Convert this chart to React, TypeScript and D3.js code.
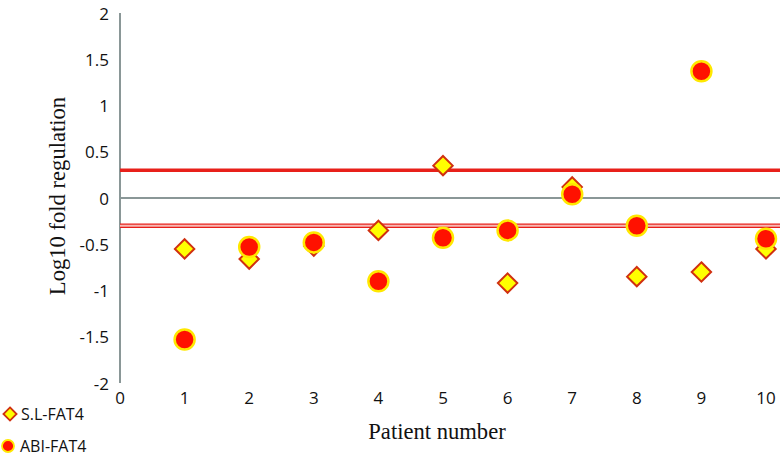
import React from "react";
import * as d3 from "d3";

const patients = [1, 2, 3, 4, 5, 6, 7, 8, 9, 10];
const slFat4 = [-0.55, -0.66, -0.52, -0.35, 0.35, -0.92, 0.12, -0.85, -0.8, -0.55];
const abiFat4 = [-1.53, -0.53, -0.48, -0.9, -0.43, -0.35, 0.04, -0.3, 1.37, -0.44];
const yTicks = [2, 1.5, 1, 0.5, 0, -0.5, -1, -1.5, -2];
const xTicks = [0, 1, 2, 3, 4, 5, 6, 7, 8, 9, 10];
const upperThreshold = 0.3;
const lowerThreshold = -0.3;

const W = 780;
const H = 458;
const tickFont = "'Open Sans', 'Liberation Sans', sans-serif";
const labelFont = "'Liberation Serif', 'DejaVu Serif', serif";

export default function App() {
  const x = d3.scaleLinear().domain([0, 10]).range([120, 766]);
  const y = d3.scaleLinear().domain([-2, 2]).range([383, 13]);
  const axisColor = "#8a9797";
  const diamond = d3.symbol().type(d3.symbolDiamond2).size(240);

  return (
    <svg width={W} height={H} style={{ position: "absolute", left: 0, top: 0 }}>
      <rect width={W} height={H} fill="#fff" />
      {/* zero line */}
      <line x1={x(0)} x2={W} y1={y(0)} y2={y(0)} stroke={axisColor} strokeWidth={2} />
      {/* y axis */}
      <line x1={x(0)} x2={x(0)} y1={y(2)} y2={y(-2)} stroke={axisColor} strokeWidth={2} />
      {/* thresholds */}
      <line x1={x(0)} x2={W} y1={y(upperThreshold)} y2={y(upperThreshold)} stroke="#e8201a" strokeWidth={3.5} />
      <rect x={x(0)} width={W - x(0)} y={y(lowerThreshold) - 1.5} height={3} fill="#f7b8b4" />
      <line x1={x(0)} x2={W} y1={y(lowerThreshold) - 1.7} y2={y(lowerThreshold) - 1.7} stroke="#e8201a" strokeWidth={1.2} />
      <line x1={x(0)} x2={W} y1={y(lowerThreshold) + 1.7} y2={y(lowerThreshold) + 1.7} stroke="#e8201a" strokeWidth={1.2} />

      {yTicks.map((t) => (
        <text key={t} x={109} y={y(t)} textAnchor="end" dominantBaseline="central" fontFamily={tickFont} fontSize={17} fill="#111">
          {t}
        </text>
      ))}
      {xTicks.map((t) => (
        <text key={t} x={x(t)} y={397} textAnchor="middle" dominantBaseline="central" fontFamily={tickFont} fontSize={17} fill="#111">
          {t}
        </text>
      ))}

      {patients.map((p, i) => (
        <path
          key={"d" + p}
          d={diamond() as string}
          transform={`translate(${x(p)},${y(slFat4[i])})`}
          fill="#ffff00"
          stroke="#d03010"
          strokeWidth={2}
        />
      ))}
      {patients.map((p, i) => (
        <circle key={"c" + p} cx={x(p)} cy={y(abiFat4[i])} r={10} fill="#ff1100" stroke="#ffe800" strokeWidth={2.5} />
      ))}

      <text
        transform={`translate(57,${y(0) - 2}) rotate(-90)`}
        textAnchor="middle"
        dominantBaseline="central"
        fontFamily={labelFont}
        fontSize={22.6}
        fill="#111"
      >
        Log10 fold regulation
      </text>
      <text x={437} y={431} textAnchor="middle" dominantBaseline="central" fontFamily={labelFont} fontSize={22.6} fill="#111">
        Patient number
      </text>

      {/* legend */}
      <path d={d3.symbol().type(d3.symbolDiamond2).size(110)() as string} transform="translate(10,414)" fill="#ffff00" stroke="#d03010" strokeWidth={1.8} />
      <text x={21} y={414} dominantBaseline="central" fontFamily={tickFont} fontSize={16} fill="#111">
        S.L-FAT4
      </text>
      <circle cx={8} cy={446} r={6} fill="#ff1100" stroke="#ffe800" strokeWidth={1.8} />
      <text x={20} y={446} dominantBaseline="central" fontFamily={tickFont} fontSize={16} fill="#111">
        ABI-FAT4
      </text>
    </svg>
  );
}
